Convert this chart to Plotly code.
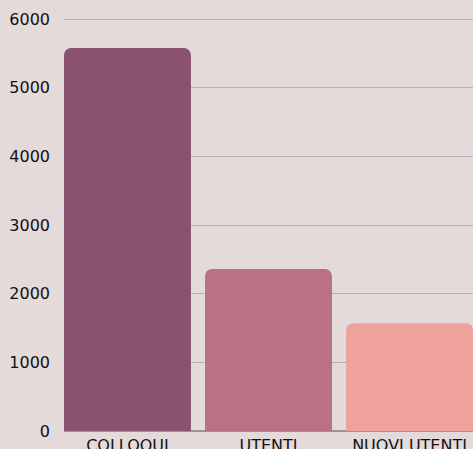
import plotly.graph_objects as go

categories = ["COLLOQUI", "UTENTI", "NUOVI UTENTI"]
values = [5580, 2360, 1570]
colors = ["#8a5270", "#b97185", "#eea29b"]
tick_vals = [0, 1000, 2000, 3000, 4000, 5000, 6000]

fig = go.Figure(
    go.Bar(
        x=categories,
        y=values,
        marker=dict(color=colors, line=dict(width=0), cornerradius=7),
    )
)

font_family = "DejaVu Sans"
fig.update_layout(
    width=473,
    height=449,
    margin=dict(l=64, r=0, t=15, b=18, pad=0),
    paper_bgcolor="#e5dada",
    plot_bgcolor="#e5dada",
    bargap=0.1,
    showlegend=False,
    font=dict(family=font_family, color="#111111", size=16),
)
fig.update_xaxes(
    range=[-0.45, 2.45],
    showgrid=False,
    showline=False,
    ticks="",
    automargin=False,
    ticklabelstandoff=3,
    tickfont=dict(size=16, family=font_family),
)
fig.update_yaxes(
    range=[0, 6060],
    tickvals=tick_vals,
    showgrid=True,
    gridcolor="#b9adb0",
    gridwidth=1,
    zeroline=True,
    zerolinecolor="#9c9294",
    zerolinewidth=2,
    ticks="",
    automargin=False,
    ticklabelstandoff=13,
    tickfont=dict(size=16, family=font_family),
)

fig.write_html(
    "out.html",
    config={"displayModeBar": False},
    post_script="document.body.style.margin='0';document.body.style.overflow='hidden';",
)
